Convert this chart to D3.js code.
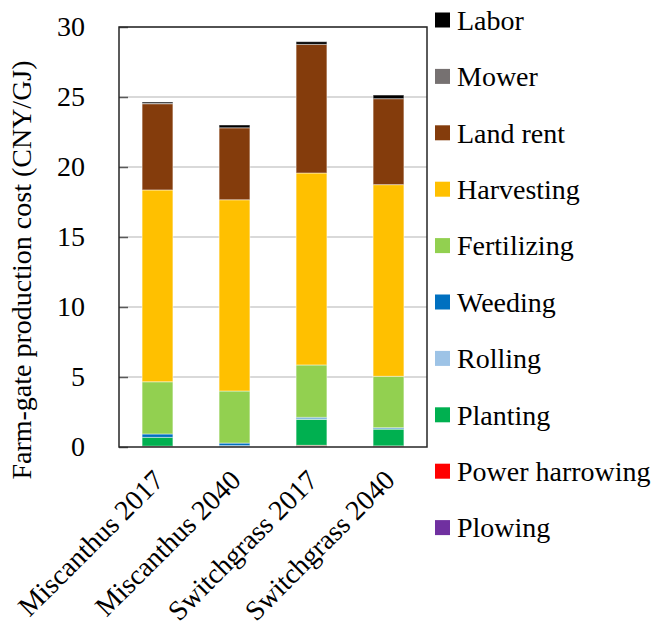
<!DOCTYPE html>
<html>
<head>
<meta charset="utf-8">
<script src="https://cdn.jsdelivr.net/npm/d3@7"></script>
<style>
  html, body { margin: 0; padding: 0; background: #fff; }
  svg { display: block; }
</style>
</head>
<body>
<svg id="chart" width="654" height="623"></svg>
<script>
// Farm-gate production cost by cost item (CNY/GJ)
const categories = ["Miscanthus 2017", "Miscanthus 2040", "Switchgrass 2017", "Switchgrass 2040"];

// stacking order, bottom to top
const seriesNames = ["Plowing", "Power harrowing", "Planting", "Rolling", "Weeding",
                     "Fertilizing", "Harvesting", "Land rent", "Mower", "Labor"];
const seriesColors = ["#7030A0", "#FF0000", "#00B050", "#9DC3E6", "#0070C0",
                      "#92D050", "#FFC000", "#843C0C", "#767171", "#000000"];

const plowing        = [0.02, 0.03, 0.05, 0.03];
const powerHarrowing = [0.04, 0.02, 0.07, 0.05];
const planting       = [0.63, 0.02, 1.86, 1.20];
const rolling        = [0.00, 0.03, 0.04, 0.02];
const weeding        = [0.24, 0.18, 0.10, 0.08];
const fertilizing    = [3.73, 3.72, 3.74, 3.67];
const harvesting     = [13.70, 13.66, 13.71, 13.69];
const landRent       = [6.16, 5.14, 9.19, 6.14];
const mower          = [0.02, 0.00, 0.00, 0.00];
const labor          = [0.10, 0.20, 0.19, 0.26];

const yTicks = [0, 5, 10, 15, 20, 25, 30];

const seriesValues = [plowing, powerHarrowing, planting, rolling, weeding,
                      fertilizing, harvesting, landRent, mower, labor];

const rows = categories.map((c, i) => {
  const r = { category: c };
  seriesNames.forEach((s, k) => { r[s] = seriesValues[k][i]; });
  return r;
});

const FONT = "'Liberation Serif', 'Times New Roman', serif";
const FS = 28;

const svg = d3.select("#chart");
const plot = { left: 119, right: 427, top: 27, bottom: 447 };

const x = d3.scaleBand().domain(categories).range([plot.left, plot.right]).paddingInner(0.6).paddingOuter(0.3);
const y = d3.scaleLinear().domain([0, 30]).range([plot.bottom, plot.top]);
const color = d3.scaleOrdinal().domain(seriesNames).range(seriesColors);

// gridlines
svg.append("g").selectAll("line").data(yTicks.filter(t => t > 0)).join("line")
  .attr("x1", plot.left).attr("x2", plot.right)
  .attr("y1", d => y(d)).attr("y2", d => y(d))
  .attr("stroke", "#d9d9d9").attr("stroke-width", 2);

// stacked bars
const stacked = d3.stack().keys(seriesNames)(rows);
svg.append("g").selectAll("g").data(stacked).join("g")
  .attr("fill", d => color(d.key))
  .selectAll("rect").data(d => d).join("rect")
  .attr("x", d => x(d.data.category))
  .attr("width", x.bandwidth())
  .attr("y", d => y(d[1]))
  .attr("height", d => Math.max(0, y(d[0]) - y(d[1])))
  .attr("stroke", "rgba(255,255,255,0.45)")
  .attr("stroke-width", 1);

// y axis with inward ticks
const yAxis = svg.append("g").attr("transform", `translate(${plot.left},0)`)
  .call(d3.axisLeft(y).tickValues(yTicks).tickSize(-9).tickPadding(34))
  .attr("font-family", FONT).attr("font-size", FS);
yAxis.select(".domain").remove();
yAxis.selectAll(".tick line").attr("stroke", "#595959").attr("stroke-width", 1.5);
yAxis.selectAll(".tick text").attr("fill", "#000");

// plot frame
svg.append("rect")
  .attr("x", plot.left).attr("y", plot.top)
  .attr("width", plot.right - plot.left).attr("height", plot.bottom - plot.top)
  .attr("fill", "none").attr("stroke", "#262626").attr("stroke-width", 1.5);

// category labels, rotated
svg.append("g").selectAll("text").data(categories).join("text")
  .attr("transform", d => `translate(${x(d) + x.bandwidth() / 2 + 1},${plot.bottom + 28}) rotate(-45)`)
  .attr("text-anchor", "end")
  .attr("dy", "0.35em")
  .attr("font-family", FONT)
  .attr("font-size", FS)
  .text(d => d);

// y axis title
svg.append("text")
  .attr("transform", "translate(21,270) rotate(-90)")
  .attr("text-anchor", "middle")
  .attr("dy", "0.35em")
  .attr("font-family", FONT)
  .attr("font-size", FS)
  .text("Farm-gate production cost (CNY/GJ)");

// legend, top to bottom in reverse stacking order
const legendItems = seriesNames.slice().reverse();
const legend = svg.append("g").selectAll("g").data(legendItems).join("g")
  .attr("transform", (d, i) => `translate(435,${20 + i * 56.4})`);
legend.append("rect")
  .attr("x", 0).attr("y", -7.5).attr("width", 15).attr("height", 15)
  .attr("fill", d => color(d));
legend.append("text")
  .attr("x", 22).attr("dy", "0.35em")
  .attr("font-family", FONT)
  .attr("font-size", FS)
  .text(d => d);
</script>
</body>
</html>
